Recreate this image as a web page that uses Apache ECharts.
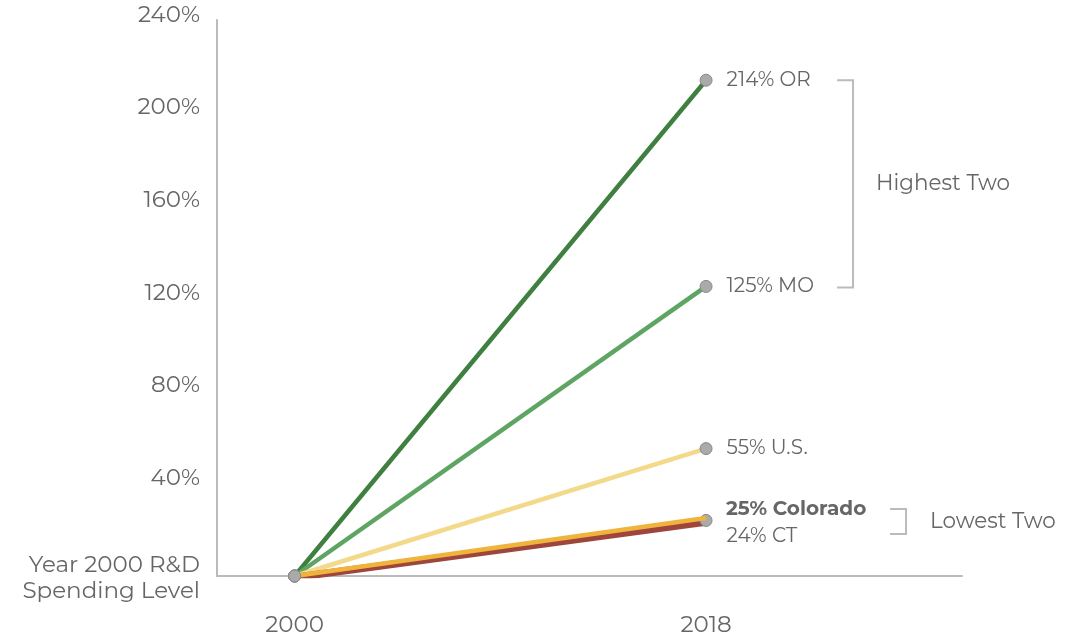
<!DOCTYPE html>
<html><head><meta charset="utf-8">
<script src="https://cdn.jsdelivr.net/npm/echarts@6/dist/echarts.min.js"></script>
<style>html,body{margin:0;padding:0;background:#fff}#c{width:1075px;height:639px}</style>
</head><body><div id="c"></div>
<script>
const years = [2000, 2018];
const seriesNames = ['OR', 'MO', 'U.S.', 'CT', 'Colorado'];
const orValues = [0, 214];
const moValues = [0, 125];
const usValues = [0, 55];
const ctValues = [0, 24];
const coValues = [0, 25];
const yTicks = [0, 40, 80, 120, 160, 200, 240];
const xTicks = [2000, 2018];
const colors = ['#3f8041', '#5ea462', '#f3d98a', '#9e463d', '#f0b43c'];

const allValues = [orValues, moValues, usValues, ctValues, coValues];
const FONT = 'Montserrat, "Noto Sans", sans-serif';
const chart = echarts.init(document.getElementById('c'));

function labelFor(i) {
  const v = allValues[i][1];
  const base = {show: true, position: 'right', distance: 14, fontSize: 20, color: '#666', fontFamily: FONT};
  if (seriesNames[i] === 'Colorado') {
    return Object.assign(base, {formatter: v + '% ' + seriesNames[i], fontWeight: 'bold', offset: [6, -9]});
  }
  if (seriesNames[i] === 'CT') {
    return Object.assign(base, {formatter: v + '% ' + seriesNames[i], offset: [0, 16]});
  }
  return Object.assign(base, {formatter: v + '% ' + seriesNames[i]});
}

const series = seriesNames.map((name, i) => ({
  name: name,
  type: 'line',
  data: years.map((y, k) => ({
    value: [y, allValues[i][k]],
    symbolSize: (name === 'Colorado' && k === 1) ? 0 : 12,
    label: k === 1 ? labelFor(i) : {show: false}
  })),
  lineStyle: name === 'CT'
    ? {color: colors[i], width: 4.5, shadowColor: colors[i], shadowBlur: 0, shadowOffsetY: 3}
    : {color: colors[i], width: 4.5},
  itemStyle: {color: '#aaaaaa', borderColor: '#888', borderWidth: 1},
  symbol: 'circle',
  symbolSize: 12,
  showAllSymbol: true,
  silent: true,
  z: 2 + i
}));

chart.setOption({
  animation: false,
  grid: {left: 217, right: 113, top: 20, bottom: 63},
  xAxis: {
    type: 'value', min: 1996.6, max: 2029.2,
    axisLine: {show: true, lineStyle: {color: '#bbb', width: 2}},
    axisTick: {show: false},
    splitLine: {show: false},
    axisLabel: {customValues: xTicks, margin: 38, fontSize: 23, color: '#666', fontFamily: FONT, formatter: v => String(v)}
  },
  yAxis: {
    type: 'value', min: 0, max: 240, interval: 40,
    axisLine: {show: true, lineStyle: {color: '#bbb', width: 2}},
    axisTick: {show: false},
    splitLine: {show: false},
    axisLabel: {
      margin: 17, fontSize: 23, color: '#666', fontFamily: FONT, lineHeight: 26,
      formatter: v => v === 0 ? '{z|Year 2000 R&D\nSpending Level}' : '{a|' + v + '%}',
      rich: {
        a: {fontSize: 23, color: '#666', fontFamily: FONT, padding: [0, 0, 10, 0]},
        z: {fontSize: 23, color: '#666', fontFamily: FONT, lineHeight: 26, padding: [4, 0, 0, 0]}
      }
    }
  },
  series: series
});

function drawBrackets() {
  const pOR = chart.convertToPixel({gridIndex: 0}, [years[1], orValues[1]]);
  const pMO = chart.convertToPixel({gridIndex: 0}, [years[1], moValues[1]]);
  const pCO = chart.convertToPixel({gridIndex: 0}, [years[1], coValues[1]]);
  const bx = pOR[0] + 131;
  const stroke = {stroke: '#bbb', lineWidth: 2, fill: null};
  const lx = pCO[0] + 184;
  const top2 = pOR[1], bot2 = pMO[1] + 1;
  const ly1 = pCO[1] - 9, ly2 = pCO[1] + 16;
  chart.setOption({graphic: [
    {type: 'polyline', shape: {points: [[bx, top2], [bx + 16, top2], [bx + 16, bot2], [bx, bot2]]}, style: stroke, silent: true},
    {type: 'text', x: bx + 39, y: (top2 + bot2) / 2, style: {text: 'Highest Two', fontSize: 21.5, fill: '#666', fontFamily: FONT, verticalAlign: 'middle'}, silent: true},
    {type: 'polyline', shape: {points: [[lx, ly1], [lx + 16, ly1], [lx + 16, ly2], [lx, ly2]]}, style: stroke, silent: true},
    {type: 'text', x: lx + 40, y: (ly1 + ly2) / 2, style: {text: 'Lowest Two', fontSize: 21.5, fill: '#666', fontFamily: FONT, verticalAlign: 'middle'}, silent: true}
  ]});
}
drawBrackets();
</script></body></html>
